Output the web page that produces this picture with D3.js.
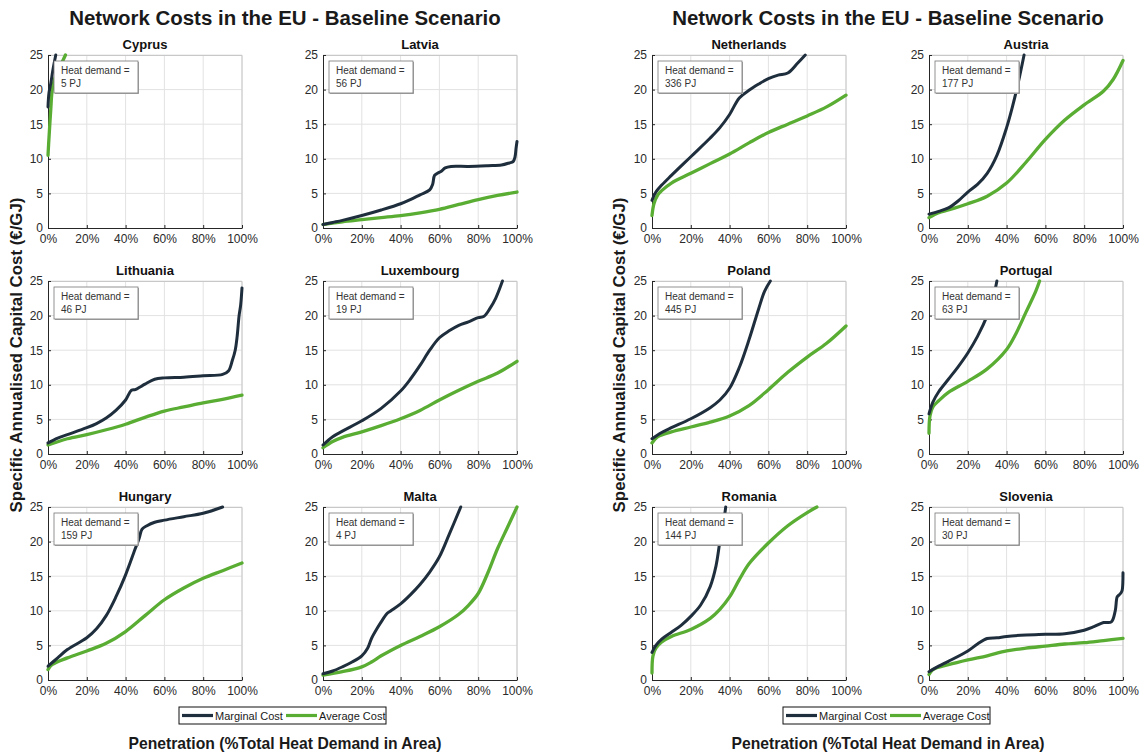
<!DOCTYPE html>
<html><head><meta charset="utf-8">
<script src="https://cdn.jsdelivr.net/npm/d3@7"></script>
<style>body{margin:0;background:#fff;} text{font-family:"Liberation Sans",Arial,sans-serif;}</style>
</head><body>
<script>
const mainTitle = "Network Costs in the EU - Baseline Scenario";
const yLabel = "Specific Annualised Capital Cost (€/GJ)";
const xLabel = "Penetration (%Total Heat Demand in Area)";
const seriesNames = ["Marginal Cost", "Average Cost"];
const xTicks = [0, 20, 40, 60, 80, 100];
const yTicks = [0, 5, 10, 15, 20, 25];

const countries = ["Cyprus","Latvia","Lithuania","Luxembourg","Hungary","Malta",
                   "Netherlands","Austria","Poland","Portugal","Romania","Slovenia"];
const heatDemandPJ = [5, 56, 46, 19, 159, 4, 336, 177, 445, 63, 144, 30];

const mCyprus = [[0,17.5],[0.5,19.5],[1.5,21],[2.5,22.8],[4,25]];
const aCyprus = [[0,10.5],[0.5,13],[1.4,17],[2.2,20],[3.5,21.6],[4.8,22.6],[7,23.8],[9,25]];
const mLatvia = [[0,0.5],[5,0.8],[10,1.1],[20,1.8],[30,2.6],[40,3.5],[45,4.1],[50,4.8],[55,5.5],[56.5,6.3],[57.5,7.6],[59,7.9],[61,8.2],[63,8.7],[66,8.9],[75,8.9],[85,9.0],[92,9.1],[96,9.4],[98,9.6],[99,10.3],[99.5,11.5],[100,12.5]];
const aLatvia = [[0,0.5],[10,0.9],[20,1.2],[30,1.5],[40,1.8],[50,2.2],[60,2.7],[70,3.4],[80,4.1],[90,4.7],[100,5.2]];
const mLithuania = [[0,1.6],[5,2.3],[10,2.8],[20,3.8],[25,4.4],[30,5.2],[35,6.3],[40,7.8],[43,9.2],[45,9.3],[47,9.6],[50,10.1],[55,10.8],[60,11.0],[70,11.1],[80,11.3],[90,11.5],[93,12],[95,13.5],[96.5,15],[97.5,17],[98.5,20],[99.3,21.5],[100,24]];
const aLithuania = [[0,1.3],[10,2.2],[20,2.8],[30,3.5],[40,4.3],[50,5.3],[60,6.2],[70,6.8],[80,7.4],[90,7.9],[100,8.5]];
const mLuxembourg = [[0,1.3],[5,2.5],[10,3.3],[20,4.8],[30,6.6],[40,9.1],[45,10.8],[50,12.8],[55,15],[60,16.8],[65,17.8],[70,18.6],[75,19.1],[80,19.7],[83,19.9],[86,21],[89,22.5],[92.5,25]];
const aLuxembourg = [[0,0.9],[5,1.8],[10,2.4],[20,3.2],[30,4.1],[40,5.1],[50,6.3],[60,7.8],[70,9.2],[80,10.5],[90,11.7],[100,13.4]];
const mHungary = [[0,2.0],[5,3.2],[10,4.4],[20,6.1],[25,7.4],[30,9.3],[35,12.0],[40,15.2],[45,19.0],[47,20.5],[48.5,21.8],[51,22.3],[55,22.8],[60,23.1],[70,23.6],[80,24.1],[90,25]];
const aHungary = [[0,1.5],[2,2.2],[10,3.2],[20,4.2],[30,5.3],[40,7.0],[50,9.3],[60,11.6],[70,13.3],[80,14.7],[90,15.8],[100,16.9]];
const mMalta = [[0,0.9],[5,1.3],[10,1.9],[15,2.6],[20,3.5],[23,4.6],[25,6.0],[28,7.5],[30,8.4],[33,9.6],[35,10.0],[40,11.0],[45,12.3],[50,13.8],[55,15.6],[60,17.8],[65,21],[71,25]];
const aMalta = [[0,0.7],[10,1.2],[20,1.9],[25,2.6],[30,3.5],[40,5.0],[50,6.3],[60,7.7],[70,9.5],[75,10.8],[80,12.5],[85,15.5],[90,19],[95,22],[100,25]];
const mNetherlands = [[0,4.0],[2,5.2],[5,6.2],[10,7.6],[20,10.3],[30,13.0],[35,14.5],[40,16.4],[45,18.8],[50,19.9],[55,20.8],[60,21.6],[65,22.1],[70,22.4],[75,23.8],[79,25]];
const aNetherlands = [[0,1.8],[1,3.5],[3,4.8],[5,5.4],[10,6.5],[20,7.9],[30,9.3],[40,10.7],[50,12.3],[60,13.8],[70,15.0],[80,16.2],[90,17.5],[100,19.2]];
const mAustria = [[0,2.0],[5,2.4],[10,2.9],[15,3.9],[20,5.2],[25,6.3],[30,7.9],[35,10.5],[40,14.5],[43,17.5],[46,21],[49,25]];
const aAustria = [[0,1.5],[5,2.2],[10,2.6],[20,3.5],[30,4.6],[40,6.5],[50,9.5],[60,12.8],[70,15.6],[80,17.8],[90,19.8],[95,21.5],[100,24.2]];
const mPoland = [[0,2.2],[5,3.1],[10,3.8],[20,5.1],[30,6.7],[35,7.8],[40,9.5],[45,12.5],[50,16.5],[55,21],[58,23.5],[61,25]];
const aPoland = [[0,1.6],[3,2.5],[10,3.2],[20,3.9],[30,4.6],[40,5.5],[50,7.0],[60,9.3],[70,11.8],[80,14.0],[90,16.0],[100,18.5]];
const mPortugal = [[0,5.8],[2,7.5],[5,9.0],[10,10.8],[15,12.6],[20,14.6],[25,17.0],[30,20],[33,22.5],[35,25]];
const aPortugal = [[0,3.0],[0.5,5.5],[2,6.8],[5,7.7],[10,8.9],[20,10.5],[30,12.3],[40,15.1],[45,17.5],[50,20.5],[55,23.5],[57,25]];
const mRomania = [[0,4.0],[2,5.0],[5,5.9],[10,6.9],[15,7.9],[20,9.2],[25,10.8],[30,13.5],[33,16.5],[35,20],[37,23],[38,25]];
const aRomania = [[0,1.0],[0.5,3.5],[2,4.6],[5,5.5],[10,6.3],[20,7.3],[30,8.9],[35,10.2],[40,12.0],[45,14.5],[50,16.8],[60,19.8],[70,22.3],[80,24.2],[85,25]];
const mSlovenia = [[0,1.2],[5,2.0],[10,2.7],[20,4.2],[25,5.2],[30,6.0],[35,6.1],[40,6.3],[50,6.5],[60,6.6],[70,6.7],[80,7.2],[85,7.7],[90,8.3],[94,8.4],[96,10],[97,12],[98,12.3],[99,12.6],[99.6,13],[100,15.5]];
const aSlovenia = [[0,0.8],[2,1.5],[10,2.2],[20,2.9],[30,3.5],[40,4.2],[50,4.6],[60,4.9],[70,5.2],[80,5.4],[90,5.7],[100,6.0]];

const marginalData = [mCyprus,mLatvia,mLithuania,mLuxembourg,mHungary,mMalta,mNetherlands,mAustria,mPoland,mPortugal,mRomania,mSlovenia];
const averageData = [aCyprus,aLatvia,aLithuania,aLuxembourg,aHungary,aMalta,aNetherlands,aAustria,aPoland,aPortugal,aRomania,aSlovenia];

// ---------- layout ----------
const W = 1143, H = 753;
const colX = [48, 323, 652, 929];
const rowY = [55, 281, 507];
const pw = 194, ph = 173;
const cMarg = "#1f2e3d", cAvg = "#5aad33";

const svg = d3.select("body").append("svg").attr("width", W).attr("height", H)
  .style("background", "#fff");

function fit(sel, target) {
  const len = sel.node().getComputedTextLength();
  const fs = parseFloat(sel.attr("font-size"));
  sel.attr("font-size", (fs * target / len).toFixed(2));
}

const blocks = [{cx: 285, yLabX: 17}, {cx: 888, yLabX: 620}];
blocks.forEach((b, bi) => {
  const t = svg.append("text").attr("x", b.cx).attr("y", 25).attr("text-anchor", "middle")
    .attr("font-size", 20).attr("font-weight", "bold").attr("fill", "#1a1a1a").text(mainTitle);
  fit(t, 432);
  const yl = svg.append("text").attr("transform", `translate(${b.yLabX + 5},355) rotate(-90)`)
    .attr("text-anchor", "middle").attr("font-size", 16).attr("font-weight", "bold")
    .attr("fill", "#1a1a1a").text(yLabel);
  fit(yl, 315);
  const xl = svg.append("text").attr("x", b.cx).attr("y", 749).attr("text-anchor", "middle")
    .attr("font-size", 15).attr("font-weight", "bold").attr("fill", "#1a1a1a").text(xLabel);
  fit(xl, 313);

  // legend
  const lx = bi === 0 ? 179 : 783, ly = 707;
  const lg = svg.append("g").attr("transform", `translate(${lx},${ly})`);
  lg.append("rect").attr("width", 207).attr("height", 17).attr("fill", "#fff")
    .attr("stroke", "#111").attr("stroke-width", 1);
  const items = [{c: cMarg, x: 3}, {c: cAvg, x: 107}];
  items.forEach((it, k) => {
    lg.append("line").attr("x1", it.x).attr("x2", it.x + 31).attr("y1", 8.5).attr("y2", 8.5)
      .attr("stroke", it.c).attr("stroke-width", 3.2);
    lg.append("text").attr("x", it.x + 33).attr("y", 12.5).attr("font-size", 11)
      .attr("fill", "#1a1a1a").text(seriesNames[k]);
  });
});

const x = d3.scaleLinear().domain([0, 100]).range([0, pw]);
const y = d3.scaleLinear().domain([0, 25]).range([ph, 0]);
const line = d3.line().x(d => x(d[0])).y(d => y(d[1])).curve(d3.curveCatmullRom.alpha(0.5));

countries.forEach((name, i) => {
  const block = i < 6 ? 0 : 1, local = i % 6;
  const row = Math.floor(local / 2), col = local % 2;
  const ox = colX[block * 2 + col], oy = rowY[row];
  const g = svg.append("g").attr("transform", `translate(${ox},${oy})`);

  // grid
  g.append("g").selectAll("line").data(xTicks.slice(1)).join("line")
    .attr("x1", d => x(d)).attr("x2", d => x(d)).attr("y1", 0).attr("y2", ph)
    .attr("stroke", "#e2e2e2").attr("stroke-width", 1);
  g.append("g").selectAll("line").data(yTicks.slice(1)).join("line")
    .attr("x1", 0).attr("x2", pw).attr("y1", d => y(d)).attr("y2", d => y(d))
    .attr("stroke", "#e2e2e2").attr("stroke-width", 1);
  // top/right frame
  g.append("path").attr("d", `M0,0.5H${pw}V${ph}`).attr("fill", "none")
    .attr("stroke", "#c8c8c8").attr("stroke-width", 1);

  // axes (drawn below the data, as in the reference)
  const ax = g.append("g").attr("transform", `translate(0,${ph})`)
    .call(d3.axisBottom(x).tickValues(xTicks).tickFormat(d => d + "%").tickSizeInner(-3).tickSizeOuter(0).tickPadding(6));
  const ay = g.append("g")
    .call(d3.axisLeft(y).tickValues(yTicks).tickSizeInner(-3).tickSizeOuter(0).tickPadding(5));
  [ax, ay].forEach(a => {
    a.select(".domain").attr("stroke", "#262626");
    a.selectAll(".tick line").attr("stroke", "#262626");
    a.selectAll("text").attr("font-size", 12).attr("fill", "#2a2a2a")
      .attr("font-family", '"Liberation Sans",Arial,sans-serif');
  });

  // lines
  const clipId = "clip" + i;
  g.append("clipPath").attr("id", clipId).append("rect")
    .attr("x", -2).attr("y", -2).attr("width", pw + 4).attr("height", ph + 2);
  const lg = g.append("g").attr("clip-path", `url(#${clipId})`);
  lg.append("path").attr("d", line(averageData[i])).attr("fill", "none")
    .attr("stroke", cAvg).attr("stroke-width", 3.3).attr("stroke-linejoin", "round").attr("stroke-linecap", "round");
  lg.append("path").attr("d", line(marginalData[i])).attr("fill", "none")
    .attr("stroke", cMarg).attr("stroke-width", 3).attr("stroke-linejoin", "round").attr("stroke-linecap", "round");

  // title
  g.append("text").attr("x", pw / 2).attr("y", -6).attr("text-anchor", "middle")
    .attr("font-size", 13).attr("font-weight", "bold").attr("fill", "#111").text(name);

  // heat demand box
  const hb = g.append("g").attr("transform", "translate(6,6)");
  hb.append("rect").attr("x", 1).attr("y", 1).attr("width", 84).attr("height", 32).attr("fill", "#aaa");
  hb.append("rect").attr("width", 84).attr("height", 32).attr("fill", "#fff")
    .attr("stroke", "#777").attr("stroke-width", 0.8);
  hb.append("text").attr("x", 7).attr("y", 13).attr("font-size", 10).attr("fill", "#333").text("Heat demand =");
  hb.append("text").attr("x", 7).attr("y", 26).attr("font-size", 10).attr("fill", "#333").text(heatDemandPJ[i] + " PJ");
});
</script>
</body></html>
